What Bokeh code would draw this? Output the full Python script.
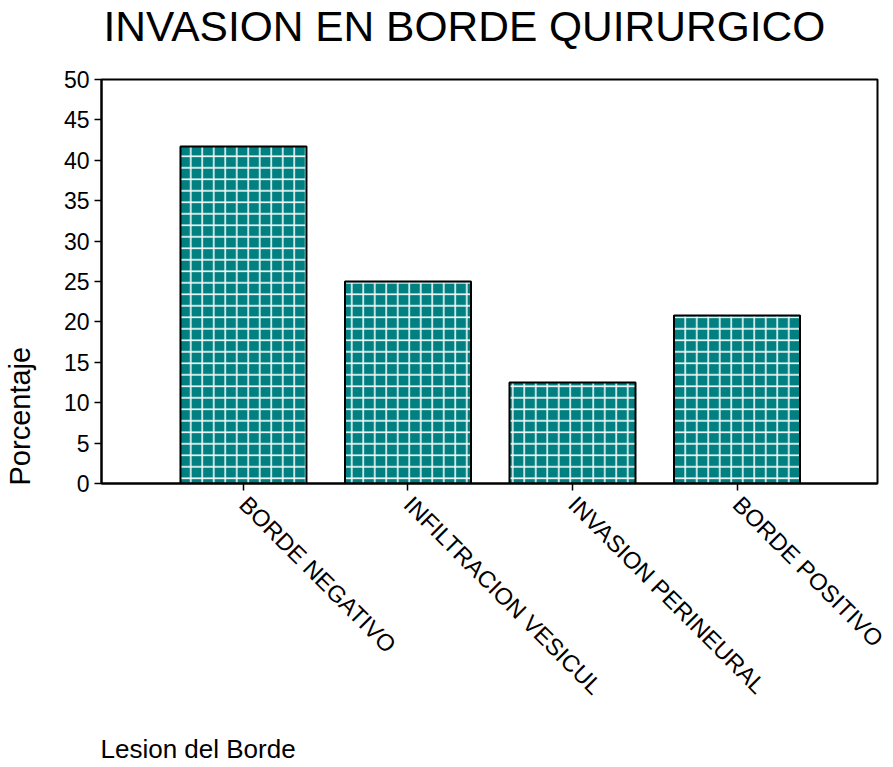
import math
from bokeh.plotting import figure
from bokeh.models import Range1d, FixedTicker, Title, ColumnDataSource, LinearAxis
from bokeh.embed import file_html
from bokeh.resources import INLINE

# ---- data ----
categories = ["BORDE NEGATIVO", "INFILTRACION VESICUL", "INVASION PERINEURAL", "BORDE POSITIVO"]
porcentaje = [41.7, 25.0, 12.5, 20.8]
y_ticks = [0, 5, 10, 15, 20, 25, 30, 35, 40, 45, 50]
title_text = "INVASION EN BORDE QUIRURGICO"
y_label = "Porcentaje"
x_label = "Lesion del Borde"

FONT = "Liberation Sans"
xpos = list(range(1, len(categories) + 1))
src = ColumnDataSource(dict(x=xpos, top=porcentaje, cat=categories))

p = figure(
    width=893, height=767,
    frame_width=776, frame_height=404,
    min_border_left=101, min_border_right=16,
    min_border_top=79, min_border_bottom=284,
    x_range=Range1d(0.137, 4.854), y_range=Range1d(0, 50),
    output_backend="svg", toolbar_location=None, tools="",
)
p.background_fill_color = "white"
p.border_fill_color = "white"
p.outline_line_color = "black"
p.outline_line_width = 2
p.outline_line_alpha = 1
p.grid.visible = False

p.vbar(x="x", top="top", bottom=0, width=0.766, source=src,
       fill_color="#008080", line_color="black", line_width=2,
       hatch_pattern="+", hatch_color="white", hatch_scale=11.5,
       hatch_weight=1.6, hatch_alpha=0.95)

# y axis
ya = p.yaxis[0]
ya.ticker = FixedTicker(ticks=y_ticks)
ya.minor_tick_line_color = None
ya.major_tick_in = 0
ya.major_tick_out = 7
ya.major_tick_line_width = 1.5
ya.axis_line_width = 2
ya.major_label_text_font = FONT
ya.major_label_text_font_size = "23px"
ya.major_label_text_color = "black"
ya.major_label_standoff = 5

# x axis
xa = p.xaxis[0]
xa.ticker = FixedTicker(ticks=xpos)
xa.major_label_overrides = {i: c for i, c in zip(xpos, categories)}
xa.minor_tick_line_color = None
xa.major_tick_in = 0
xa.major_tick_out = 7
xa.major_tick_line_width = 1.5
xa.axis_line_width = 2
xa.major_label_orientation = -math.pi / 4
xa.major_label_text_font = FONT
xa.major_label_text_font_size = "23.5px"
xa.major_label_text_color = "black"
xa.major_label_standoff = 10


def spacer_axis(gap):
    """Invisible axis used only to reserve a gap between an axis and a title."""
    return LinearAxis(ticker=FixedTicker(ticks=[]), axis_line_color=None,
                      major_tick_out=0, major_tick_in=0,
                      major_tick_line_color=None, minor_tick_line_color=None,
                      minor_tick_out=0, minor_tick_in=0,
                      major_label_text_font_size="0px", major_label_standoff=0,
                      axis_label=" ", axis_label_text_font_size="1px",
                      axis_label_text_alpha=0, axis_label_standoff=gap - 1)


# main title
p.add_layout(spacer_axis(27), "above")
p.add_layout(Title(text=title_text, align="left", offset=2, standoff=0,
                   text_font=FONT, text_font_size="42.5px", text_font_style="normal",
                   text_color="black"), "above")
# y axis title
p.add_layout(spacer_axis(22), "left")
p.add_layout(Title(text=y_label, align="left", offset=-2, standoff=0,
                   text_font=FONT, text_font_size="29px", text_font_style="normal",
                   text_color="black"), "left")
# x axis title
p.add_layout(Title(text=x_label, align="left", offset=-1, standoff=40,
                   text_font=FONT, text_font_size="26px", text_font_style="normal",
                   text_color="black"), "below")

open("out.html", "w").write(file_html(p, INLINE))
